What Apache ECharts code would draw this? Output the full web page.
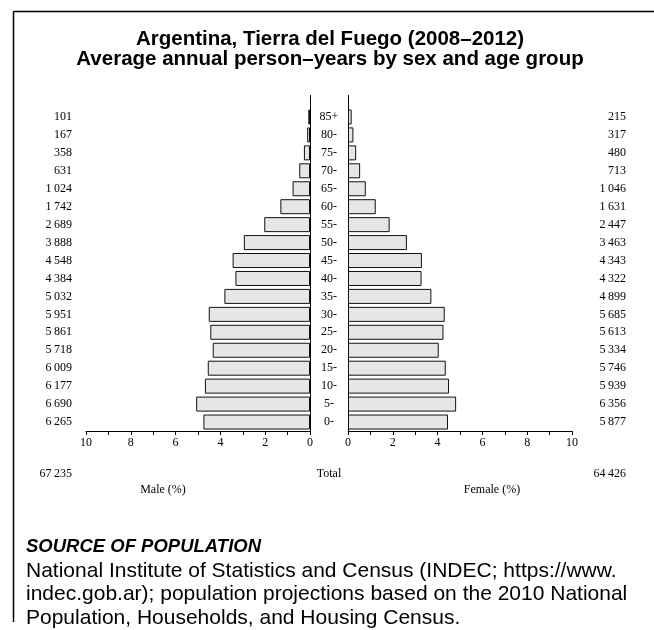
<!DOCTYPE html>
<html>
<head>
<meta charset="utf-8">
<script src="https://cdn.jsdelivr.net/npm/echarts@6/dist/echarts.min.js"></script>
<style>
html,body{margin:0;padding:0;background:#fff;}
#chart{width:654px;height:630px;}
</style>
</head>
<body>
<div id="chart"></div>
<script>
// ---- data (top row = oldest age group) ----
const ageGroups = ['85+','80-','75-','70-','65-','60-','55-','50-','45-','40-','35-','30-','25-','20-','15-','10-','5-','0-'];
const maleCounts = [101,167,358,631,1024,1742,2689,3888,4548,4384,5032,5951,5861,5718,6009,6177,6690,6265];
const femaleCounts = [215,317,480,713,1046,1631,2447,3463,4343,4322,4899,5685,5613,5334,5746,5939,6356,5877];
const maleTotal = 67235;
const femaleTotal = 64426;
const xTicks = [0,2,4,6,8,10];

const grandTotal = maleTotal + femaleTotal;
const malePct = maleCounts.map(v => v / grandTotal * 100);
const femalePct = femaleCounts.map(v => v / grandTotal * 100);
const fmt = n => String(n).replace(/\B(?=(\d{3})+(?!\d))/g, '\u2009');

// ---- layout ----
const SERIF = '"Liberation Serif", "DejaVu Serif", serif';
const SANS = '"Liberation Sans", Arial, sans-serif';
const TOP = 108, HEIGHT = 323;
const LEFT_L = 86, LEFT_R = 348, GW = 224;
const AXIS_TOP = 95;

const chart = echarts.init(document.getElementById('chart'), null, {renderer: 'canvas'});

const labelStyle = {fontFamily: SERIF, fontSize: 12, color: '#000'};
function xAxis(grid, inverse) {
  return {
    gridIndex: grid, type: 'value', min: 0, max: 10, interval: 1, inverse: inverse,
    axisLine: {show: true, lineStyle: {color: '#000', width: 1}},
    axisTick: {show: true, length: 4, inside: false, lineStyle: {color: '#000', width: 1}},
    splitLine: {show: false},
    axisLabel: Object.assign({margin: 6, formatter: v => xTicks.indexOf(v) >= 0 ? String(v) : ''}, labelStyle)
  };
}
function catAxis(grid, data, pos, lineShow, label) {
  return {
    gridIndex: grid, type: 'category', data: data, inverse: true, position: pos,
    axisLine: {show: lineShow, onZero: false, lineStyle: {color: '#000', width: 1}},
    axisTick: {show: false},
    splitLine: {show: false},
    axisLabel: label ? Object.assign({interval: 0}, labelStyle, label) : {show: false}
  };
}
const barStyle = {color: '#e6e6e6', borderColor: '#111', borderWidth: 1};

const textEl = (x, y, text, font, align, extra) => ({
  type: 'text', x: x, y: y,
  style: Object.assign({text: text, font: font, fill: '#000', textAlign: align, textVerticalAlign: 'middle'}, extra || {})
});

const option = {
  animation: false,
  backgroundColor: '#fff',
  grid: [
    {left: LEFT_L, top: TOP, width: GW, height: HEIGHT},
    {left: LEFT_R, top: TOP, width: GW, height: HEIGHT}
  ],
  xAxis: [xAxis(0, true), xAxis(1, false)],
  yAxis: [
    catAxis(0, ageGroups, 'right', true, {align: 'center', margin: 19}),
    catAxis(0, maleCounts.map(fmt), 'left', false, {align: 'right', margin: 14}),
    catAxis(1, ageGroups, 'left', true, null),
    catAxis(1, femaleCounts.map(fmt), 'right', false, {align: 'right', margin: 54})
  ],
  series: [
    {type: 'bar', xAxisIndex: 0, yAxisIndex: 0, data: malePct, barWidth: 15, itemStyle: barStyle, silent: true},
    {type: 'bar', xAxisIndex: 1, yAxisIndex: 2, data: femalePct, barWidth: 15, itemStyle: barStyle, silent: true}
  ],
  graphic: [
    // frame
    {type: 'line', shape: {x1: 13.5, y1: 11.5, x2: 654, y2: 11.5}, style: {stroke: '#000', lineWidth: 1.5}},
    {type: 'line', shape: {x1: 13.5, y1: 11.5, x2: 13.5, y2: 622}, style: {stroke: '#000', lineWidth: 1.5}},
    // vertical axis extensions above the grid
    {type: 'line', shape: {x1: LEFT_L + GW + 0.5, y1: AXIS_TOP, x2: LEFT_L + GW + 0.5, y2: TOP}, style: {stroke: '#000', lineWidth: 1}},
    {type: 'line', shape: {x1: LEFT_R + 0.5, y1: AXIS_TOP, x2: LEFT_R + 0.5, y2: TOP}, style: {stroke: '#000', lineWidth: 1}},
    // title
    textEl(330, 39, 'Argentina, Tierra del Fuego (2008\u20132012)', 'bold 20.5px ' + SANS, 'center'),
    textEl(330, 59, 'Average annual person\u2013years by sex and age group', 'bold 20.5px ' + SANS, 'center'),
    // totals and axis titles
    textEl(72, 474, fmt(maleTotal), '12px ' + SERIF, 'right'),
    textEl(329, 474, 'Total', '12px ' + SERIF, 'center'),
    textEl(626, 474, fmt(femaleTotal), '12px ' + SERIF, 'right'),
    textEl(163, 490, 'Male (%)', '12px ' + SERIF, 'center'),
    textEl(492, 490, 'Female (%)', '12px ' + SERIF, 'center'),
    // source
    textEl(26, 547, 'SOURCE OF POPULATION', 'italic bold 18.5px ' + SANS, 'left'),
    textEl(26, 571, 'National Institute of Statistics and Census (INDEC; https://www.', '21px ' + SANS, 'left'),
    textEl(26, 594.5, 'indec.gob.ar); population projections based on the 2010 National', '21px ' + SANS, 'left'),
    textEl(26, 618, 'Population, Households, and Housing Census.', '21px ' + SANS, 'left')
  ]
};
chart.setOption(option);
</script>
</body>
</html>
